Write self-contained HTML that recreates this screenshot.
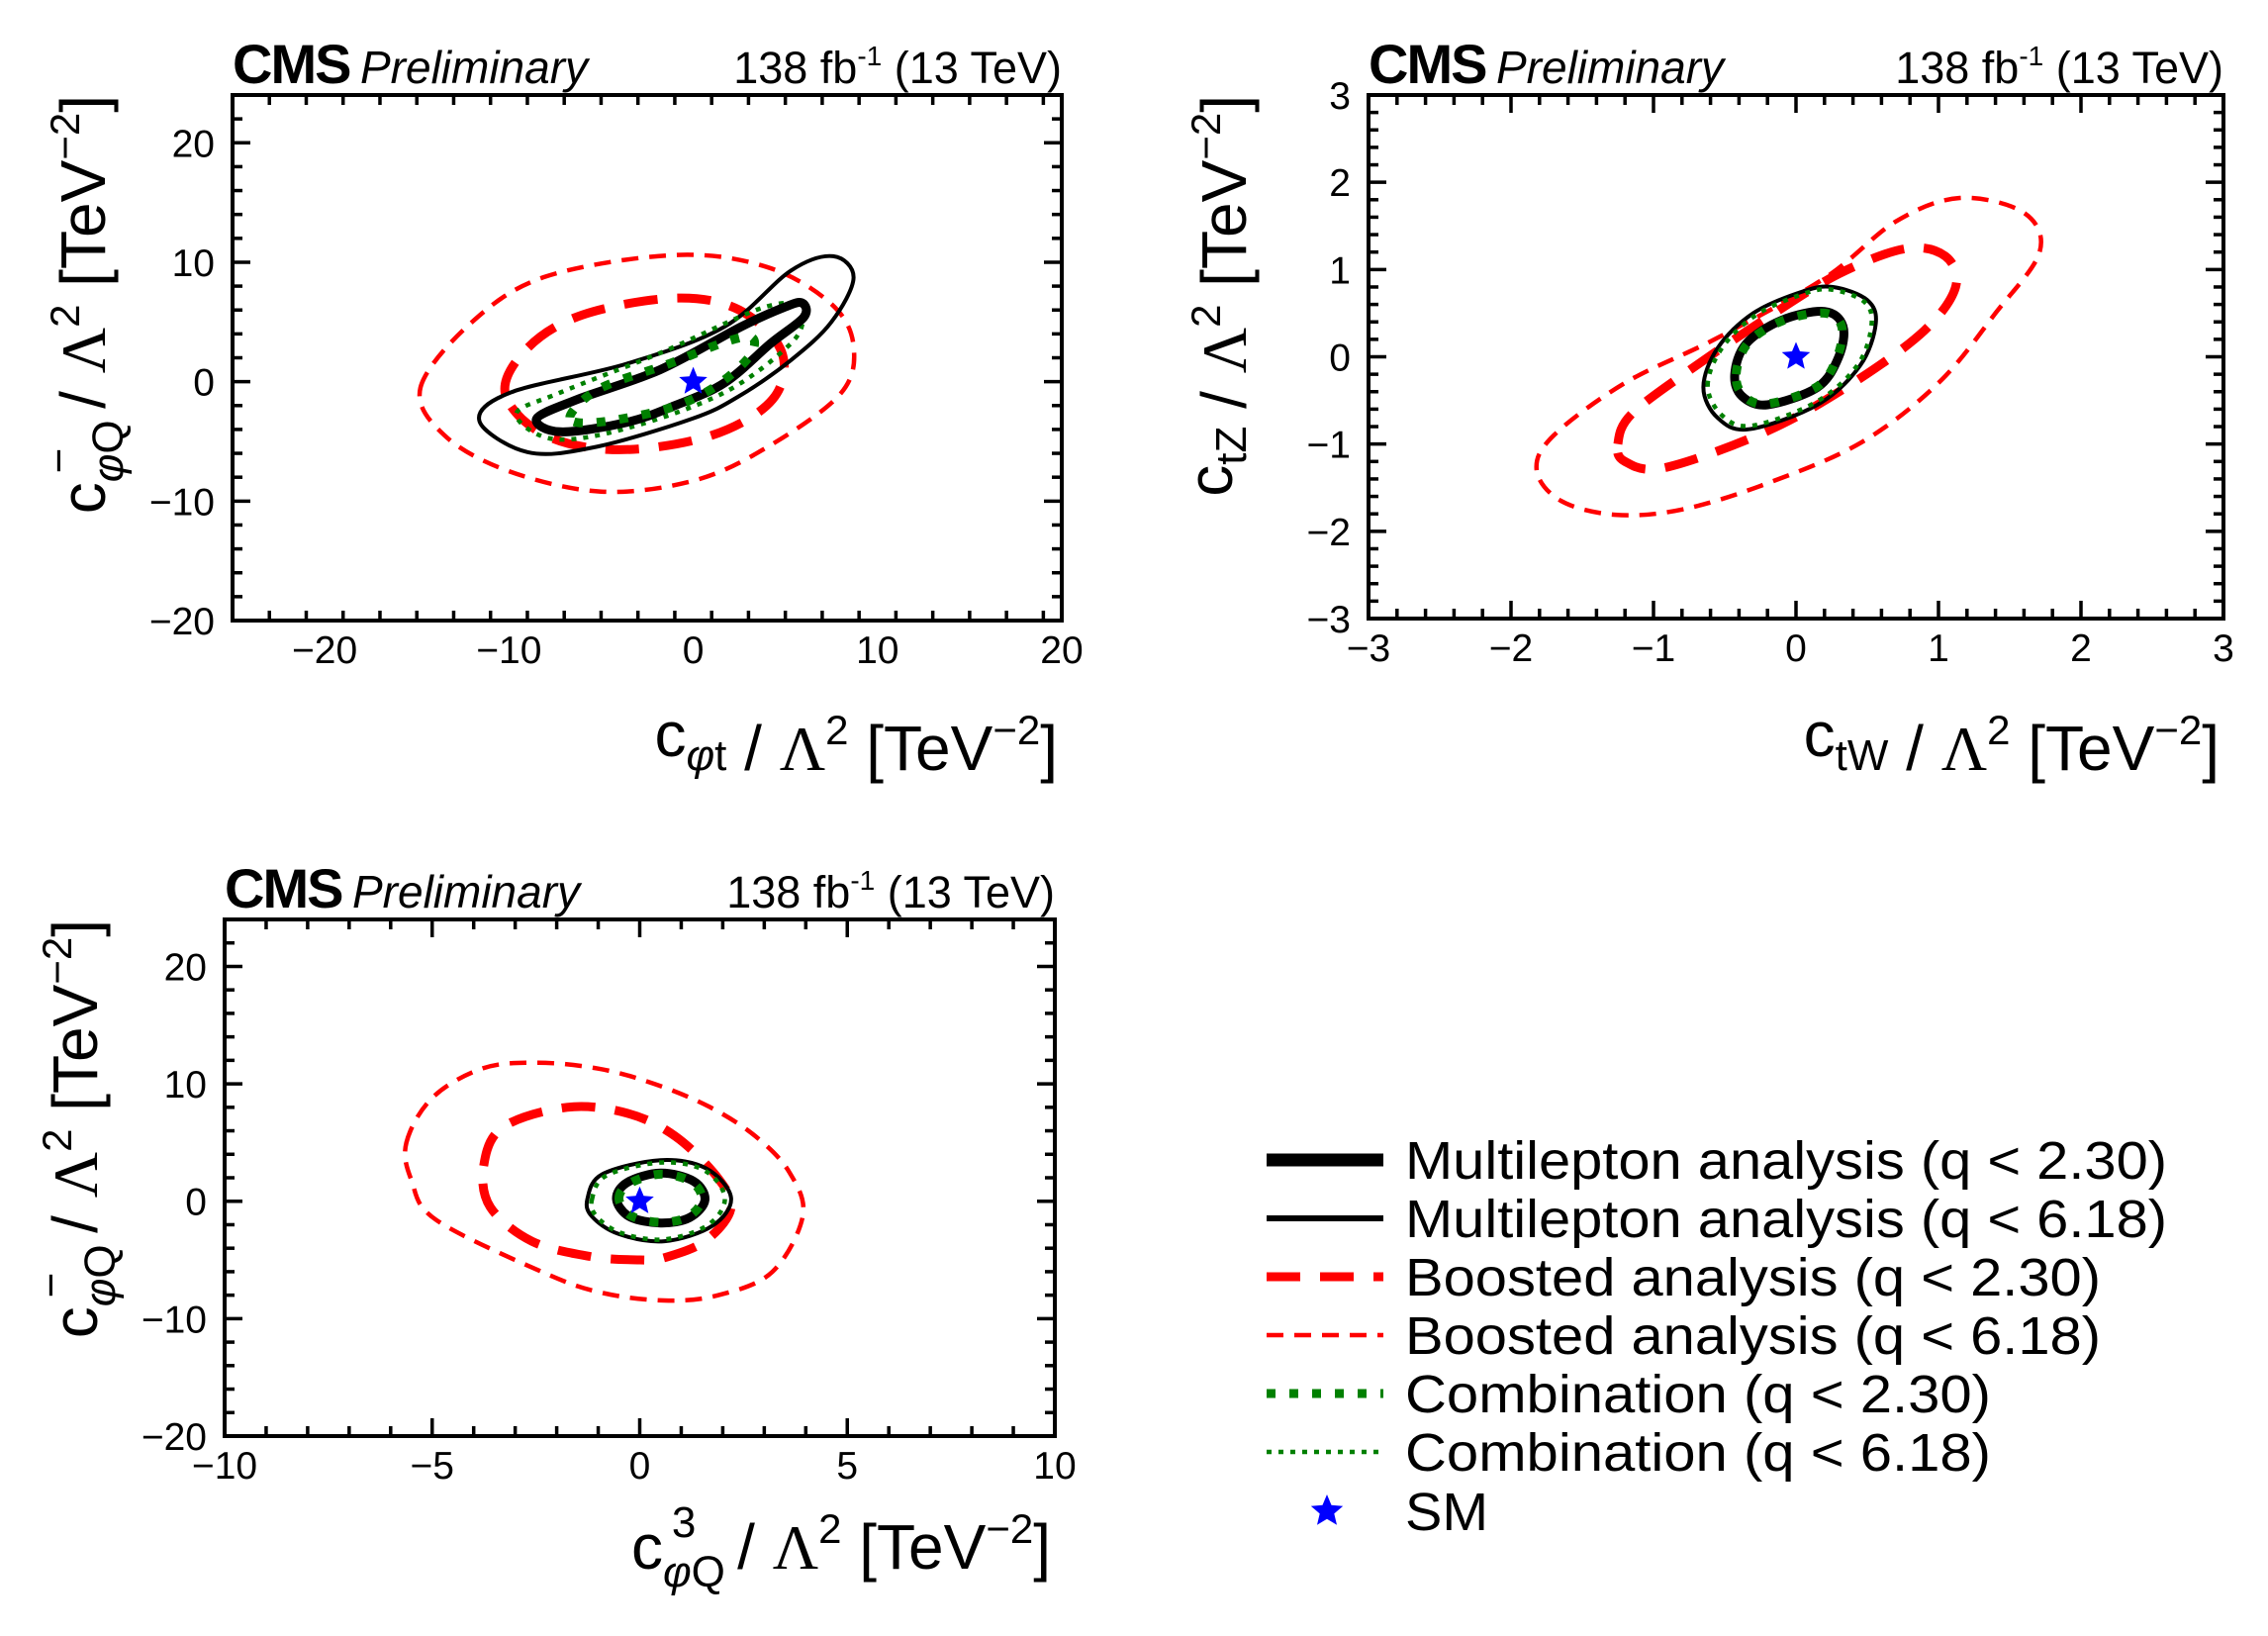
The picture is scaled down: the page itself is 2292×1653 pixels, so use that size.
<!DOCTYPE html>
<html><head><meta charset="utf-8"><style>
html,body{margin:0;padding:0;background:#fff;}
svg{display:block;font-family:"Liberation Sans",sans-serif;}
</style></head>
<body>
<svg id="fig" width="2292" height="1653" viewBox="0 0 2292 1653" xmlns="http://www.w3.org/2000/svg">
<rect width="2292" height="1653" fill="#fff"/>
<g id="legend"></g>
</svg>
<script>
// ---------- Panel 1 data: c_phi_t vs c_phi_Q^- ----------
const p1_ml230 = [[5.9,6.6],[6.0,5.4],[4.2,3.2],[1.7,-0.1],[-1.0,-2.0],[-3.6,-3.4],[-7.2,-4.2],[-8.5,-3.1],[-6.3,-1.5],[-1.8,1.0],[2.6,4.6],[4.9,6.2]];
const p1_ml618 = [[7.6,10.5],[8.7,8.7],[7.5,5.0],[5.3,1.8],[2.5,-1.2],[-0.05,-3.1],[-5.4,-5.5],[-9.0,-5.9],[-11.6,-3.3],[-9.9,-0.9],[-3.6,1.5],[1.7,4.6],[5.3,9.3]];
const p1_bo230 = [[-10.2,-1.0],[-9.0,2.8],[-6.0,5.6],[-1.0,7.0],[2.5,6.0],[4.8,2.5],[4.3,-1.5],[1.0,-4.5],[-4.0,-5.7],[-8.0,-4.5]];
const p1_bo618 = [[-14.8,-0.5],[-12.0,5.0],[-8.0,8.8],[-1.0,10.6],[4.0,9.6],[7.5,6.5],[8.7,3.0],[8.0,-1.0],[4.0,-5.5],[0.0,-8.3],[-5.0,-9.2],[-10.0,-7.5],[-13.5,-4.5]];
const p1_co230 = [[-6.7,-3.0],[-5.1,-0.6],[-1.3,1.5],[1.7,3.3],[3.2,3.7],[3.0,2.0],[1.0,-0.6],[-1.5,-2.3],[-5.2,-3.4]];
const p1_co618 = [[5.8,6.5],[6.0,5.6],[5.3,3.2],[1.7,-0.9],[-3.6,-3.9],[-7.6,-4.8],[-9.6,-2.7],[-7.2,-0.9],[-1.8,2.4],[3.6,6.1]];
// ---------- Panel 2 data: c_tW vs c_tZ ----------
const p2_ml230 = [[-0.43,-0.2],[-0.35,0.15],[-0.1,0.42],[0.2,0.52],[0.33,0.35],[0.3,0.0],[0.15,-0.35],[-0.2,-0.55],[-0.38,-0.45]];
const p2_ml618 = [[-0.65,-0.35],[-0.55,0.1],[-0.3,0.5],[0.05,0.75],[0.26,0.8],[0.5,0.65],[0.56,0.38],[0.45,-0.1],[0.15,-0.55],[-0.33,-0.83],[-0.55,-0.7]];
const p2_bo230 = [[-1.25,-1.0],[-1.15,-0.65],[-0.7,-0.1],[-0.2,0.45],[0.3,0.95],[0.77,1.24],[1.05,1.15],[1.12,0.8],[0.9,0.3],[0.4,-0.3],[-0.2,-0.85],[-0.92,-1.27],[-1.2,-1.2]];
const p2_bo618 = [[-1.82,-1.3],[-1.7,-0.9],[-1.2,-0.3],[-0.56,0.21],[0.2,0.9],[0.7,1.55],[1.15,1.82],[1.6,1.65],[1.71,1.2],[1.4,0.5],[1.0,-0.3],[0.46,-0.98],[-0.2,-1.45],[-0.8,-1.75],[-1.27,-1.81],[-1.65,-1.65]];
const p2_co230 = [[-0.42,-0.2],[-0.34,0.15],[-0.1,0.41],[0.2,0.5],[0.32,0.35],[0.29,0.0],[0.15,-0.34],[-0.2,-0.54],[-0.37,-0.44]];
const p2_co618 = [[-0.62,-0.33],[-0.52,0.1],[-0.28,0.48],[0.05,0.72],[0.25,0.77],[0.48,0.63],[0.53,0.36],[0.43,-0.1],[0.14,-0.52],[-0.31,-0.79],[-0.52,-0.67]];
// ---------- Panel 3 data: c_phi_Q^3 vs c_phi_Q^- ----------
const p3_ml230 = [[-0.56,0.2],[-0.3,1.6],[0.5,2.4],[1.3,1.7],[1.57,0.1],[1.2,-1.4],[0.5,-1.85],[-0.25,-1.3]];
const p3_ml618 = [[-1.26,0.2],[-0.9,2.3],[0.5,3.5],[1.6,2.8],[2.2,0.3],[1.75,-2.1],[0.6,-3.4],[-0.5,-2.8],[-1.15,-1.3]];
const p3_bo230 = [[-3.76,3.0],[-3.3,6.3],[-1.75,8.0],[-0.3,7.5],[0.87,5.5],[1.9,1.9],[2.19,-0.7],[1.57,-3.4],[0.6,-4.8],[0.0,-5.0],[-1.2,-4.7],[-2.6,-3.4],[-3.6,-0.5]];
const p3_bo618 = [[-5.62,5.0],[-5.0,8.8],[-3.8,11.3],[-2.5,11.8],[-1.0,11.3],[0.35,10.0],[1.7,8.0],[2.8,5.5],[3.6,2.5],[3.93,-1.2],[3.2,-6.0],[1.9,-8.0],[0.6,-8.45],[-0.9,-7.8],[-2.3,-6.1],[-4.9,-1.6],[-5.5,1.8]];
const p3_co230 = [[-0.5,0.2],[-0.25,1.5],[0.5,2.3],[1.25,1.65],[1.5,0.1],[1.15,-1.35],[0.5,-1.8],[-0.2,-1.25]];
const p3_co618 = [[-1.15,0.2],[-0.8,2.2],[0.5,3.3],[1.55,2.65],[2.05,0.3],[1.65,-2.0],[0.6,-3.25],[-0.45,-2.7],[-1.05,-1.25]];
const smPoint = [0,0];
// ticks
const p1_xticks = [-20,-10,0,10,20];
const p1_yticks = [-20,-10,0,10,20];
const p2_xticks = [-3,-2,-1,0,1,2,3];
const p2_yticks = [-3,-2,-1,0,1,2,3];
const p3_xticks = [-10,-5,0,5,10];
const p3_yticks = [-20,-10,0,10,20];
const legendLabels = ["Multilepton analysis (q < 2.30)","Multilepton analysis (q < 6.18)","Boosted analysis (q < 2.30)","Boosted analysis (q < 6.18)","Combination (q < 2.30)","Combination (q < 6.18)","SM"];

const NS="http://www.w3.org/2000/svg";
const svg=document.getElementById('fig');
function mk(tag,attrs,parent){const e=document.createElementNS(NS,tag);for(const k in attrs)e.setAttribute(k,attrs[k]);(parent||svg).appendChild(e);return e;}

const styles={
 ml230:{stroke:"#000","stroke-width":9,"stroke-dasharray":"none"},
 ml618:{stroke:"#000","stroke-width":4,"stroke-dasharray":"none"},
 bo230:{stroke:"#ff0000","stroke-width":9,"stroke-dasharray":"34 20"},
 bo618:{stroke:"#ff0000","stroke-width":4.5,"stroke-dasharray":"17 11"},
 co230:{stroke:"#008000","stroke-width":9,"stroke-dasharray":"9 14"},
 co618:{stroke:"#008000","stroke-width":4.5,"stroke-dasharray":"5 7"}
};

function closedPath(pts){
 const n=pts.length;let d=`M${pts[0][0].toFixed(1)},${pts[0][1].toFixed(1)}`;
 for(let i=0;i<n;i++){
  const p0=pts[(i-1+n)%n],p1=pts[i],p2=pts[(i+1)%n],p3=pts[(i+2)%n];
  const c1=[p1[0]+(p2[0]-p0[0])/6,p1[1]+(p2[1]-p0[1])/6];
  const c2=[p2[0]-(p3[0]-p1[0])/6,p2[1]-(p3[1]-p1[1])/6];
  d+=`C${c1[0].toFixed(1)},${c1[1].toFixed(1)} ${c2[0].toFixed(1)},${c2[1].toFixed(1)} ${p2[0].toFixed(1)},${p2[1].toFixed(1)}`;
 }
 return d+'Z';
}
function starPath(cx,cy,R){
 let d='';for(let i=0;i<10;i++){const r=i%2?R*0.45:R;const a=-Math.PI/2+i*Math.PI/5;d+=(i?'L':'M')+(cx+r*Math.cos(a)).toFixed(1)+','+(cy+r*Math.sin(a)).toFixed(1);}return d+'Z';
}

function panel(cfg){
 const g=mk('g',{});
 
 
 const X=v=>cfg.L+(v-cfg.x0)/(cfg.x1-cfg.x0)*(cfg.R-cfg.L);
 const Y=v=>cfg.B-(v-cfg.y0)/(cfg.y1-cfg.y0)*(cfg.B-cfg.T);
 const order=['bo618','bo230','ml618','co618','ml230','co230'];
 order.forEach(k=>{
  const pts=cfg.series[k].map(p=>[X(p[0]),Y(p[1])]);
  const s=styles[k];
  const path=mk('path',{d:closedPath(pts),fill:"none",stroke:s.stroke,"stroke-width":s["stroke-width"],"stroke-dasharray":s["stroke-dasharray"],"stroke-linejoin":"round"},g);
  
  
 });
 const st=mk('path',{d:starPath(X(smPoint[0]),Y(smPoint[1]),15),fill:"#0000ff"},g);
 
 
 const tg=mk('g',{stroke:"#000","stroke-width":3.5},g);
 for(let v=cfg.x0;v<=cfg.x1+1e-9;v+=cfg.xminor){
  const major=Math.abs(v/cfg.xmajor-Math.round(v/cfg.xmajor))<1e-6;const len=major?18:10;const x=X(v);
  mk('line',{x1:x,x2:x,y1:cfg.B,y2:cfg.B-len},tg);mk('line',{x1:x,x2:x,y1:cfg.T,y2:cfg.T+len},tg);
 }
 for(let v=cfg.y0;v<=cfg.y1+1e-9;v+=cfg.yminor){
  const major=Math.abs(v/cfg.ymajor-Math.round(v/cfg.ymajor))<1e-6;const len=major?18:10;const y=Y(v);
  mk('line',{x1:cfg.L,x2:cfg.L+len,y1:y,y2:y},tg);mk('line',{x1:cfg.R,x2:cfg.R-len,y1:y,y2:y},tg);
 }
 const fr=mk('rect',{x:cfg.L,y:cfg.T,width:cfg.R-cfg.L,height:cfg.B-cfg.T,fill:"none",stroke:"#000","stroke-width":4},g);
 
 
 const fmt=v=>v<0?'\u2212'+(-v):String(v);
 cfg.xticks.forEach(v=>{const t=mk('text',{x:X(v),y:cfg.B+43,"font-size":39,"text-anchor":"middle"},g);t.textContent=fmt(v);
  
  });
 cfg.yticks.forEach(v=>{const t=mk('text',{x:cfg.L-18,y:Y(v)+14,"font-size":39,"text-anchor":"end"},g);t.textContent=fmt(v);
  
  });
 const h=mk('text',{x:cfg.L,y:cfg.T-12,"font-size":56,"font-weight":"bold","letter-spacing":"-2"},g);h.textContent='CMS';
 
 
 const pr=mk('text',{x:cfg.L+129,y:cfg.T-12,"font-size":46,"font-style":"italic"},g);pr.textContent='Preliminary';
 
 
 const lu=mk('text',{x:cfg.R,y:cfg.T-12,"font-size":45,"text-anchor":"end"},g);
 lu.innerHTML='138 fb<tspan dy="-18" font-size="28">-1</tspan><tspan dy="18"> (13 TeV)</tspan>';
 
 
 const xt=mk('text',{x:cfg.R-4,y:cfg.xtY,"font-size":64,"text-anchor":"end"},g);xt.innerHTML=cfg.xtitle;
 
 
 const yt=mk('text',{x:0,y:0,"font-size":64,"text-anchor":"end",transform:`translate(${cfg.ytX},${cfg.T}) rotate(-90)`},g);yt.innerHTML=cfg.ytitle;
 
 
}
const unit='<tspan> / </tspan><tspan font-family="Liberation Serif">\u039B</tspan><tspan dy="-26" font-size="42">2</tspan><tspan dy="26"> [TeV</tspan><tspan dy="-26" font-size="42">\u22122</tspan><tspan dy="26">]</tspan>';
const cphiQm='c<tspan dy="18" font-size="44" font-style="italic">\u03C6</tspan><tspan font-size="44">Q</tspan><tspan dx="-54" dy="-50" font-size="44">\u2212</tspan><tspan dx="22" dy="32"> </tspan>';
panel({name:'panel-cphit-cphiQm',L:235,R:1073,T:96,B:627,x0:-25,x1:20,y0:-20,y1:24,xmajor:10,xminor:2,ymajor:10,yminor:2,
 xticks:p1_xticks,yticks:p1_yticks,xtY:764,ytX:106,
 xtitle:'c<tspan dy="14" font-size="44" font-style="italic">\u03C6</tspan><tspan font-size="44">t</tspan><tspan dy="-14"></tspan>'+unit,
 ytitle:cphiQm+unit,
 series:{ml230:p1_ml230,ml618:p1_ml618,bo230:p1_bo230,bo618:p1_bo618,co230:p1_co230,co618:p1_co618}});
panel({name:'panel-ctW-ctZ',L:1383,R:2247,T:96,B:625,x0:-3,x1:3,y0:-3,y1:3,xmajor:1,xminor:0.2,ymajor:1,yminor:0.2,
 xticks:p2_xticks,yticks:p2_yticks,xtY:764,ytX:1245,
 xtitle:'c<tspan dy="14" font-size="44">tW</tspan><tspan dy="-14"></tspan>'+unit,
 ytitle:'c<tspan dy="14" font-size="44">tZ</tspan><tspan dy="-14"></tspan>'+unit,
 series:{ml230:p2_ml230,ml618:p2_ml618,bo230:p2_bo230,bo618:p2_bo618,co230:p2_co230,co618:p2_co618}});
panel({name:'panel-cphiQ3-cphiQm',L:227,R:1066,T:929,B:1451,x0:-10,x1:10,y0:-20,y1:24,xmajor:5,xminor:1,ymajor:10,yminor:2,
 xticks:p3_xticks,yticks:p3_yticks,xtY:1585,ytX:98,
 xtitle:'c<tspan dy="18" font-size="44" font-style="italic">\u03C6</tspan><tspan font-size="44">Q</tspan><tspan dx="-54" dy="-50" font-size="44">3</tspan><tspan dx="24" dy="32"> </tspan>'+unit,
 ytitle:cphiQm+unit,
 series:{ml230:p3_ml230,ml618:p3_ml618,bo230:p3_bo230,bo618:p3_bo618,co230:p3_co230,co618:p3_co618}});

const lg=document.getElementById('legend');
const lkeys=['ml230','ml618','bo230','bo618','co230','co618'];
const rowY=[1172,1231,1290,1349,1408,1467,1527];
legendLabels.forEach((lab,i)=>{
 const y=rowY[i];
 if(i<6){const s=styles[lkeys[i]];
  const ln=mk('line',{x1:1280,x2:1398,y1:y,y2:y,stroke:s.stroke,"stroke-width":i===0?13:s["stroke-width"]+(i===1?2:0),"stroke-dasharray":s["stroke-dasharray"]},lg);
  
  
 } else {
  const st=mk('path',{d:starPath(1341,y,17),fill:"#0000ff"},lg);
  
  
 }
 const t=mk('text',{x:1420,y:y+19,"font-size":54},lg);t.textContent=lab;
 const widths=[770,770,703,703,592,592,84];
 t.setAttribute('textLength',widths[i]);
 t.setAttribute('lengthAdjust','spacingAndGlyphs');
 
 
});
</script>
</body></html>
